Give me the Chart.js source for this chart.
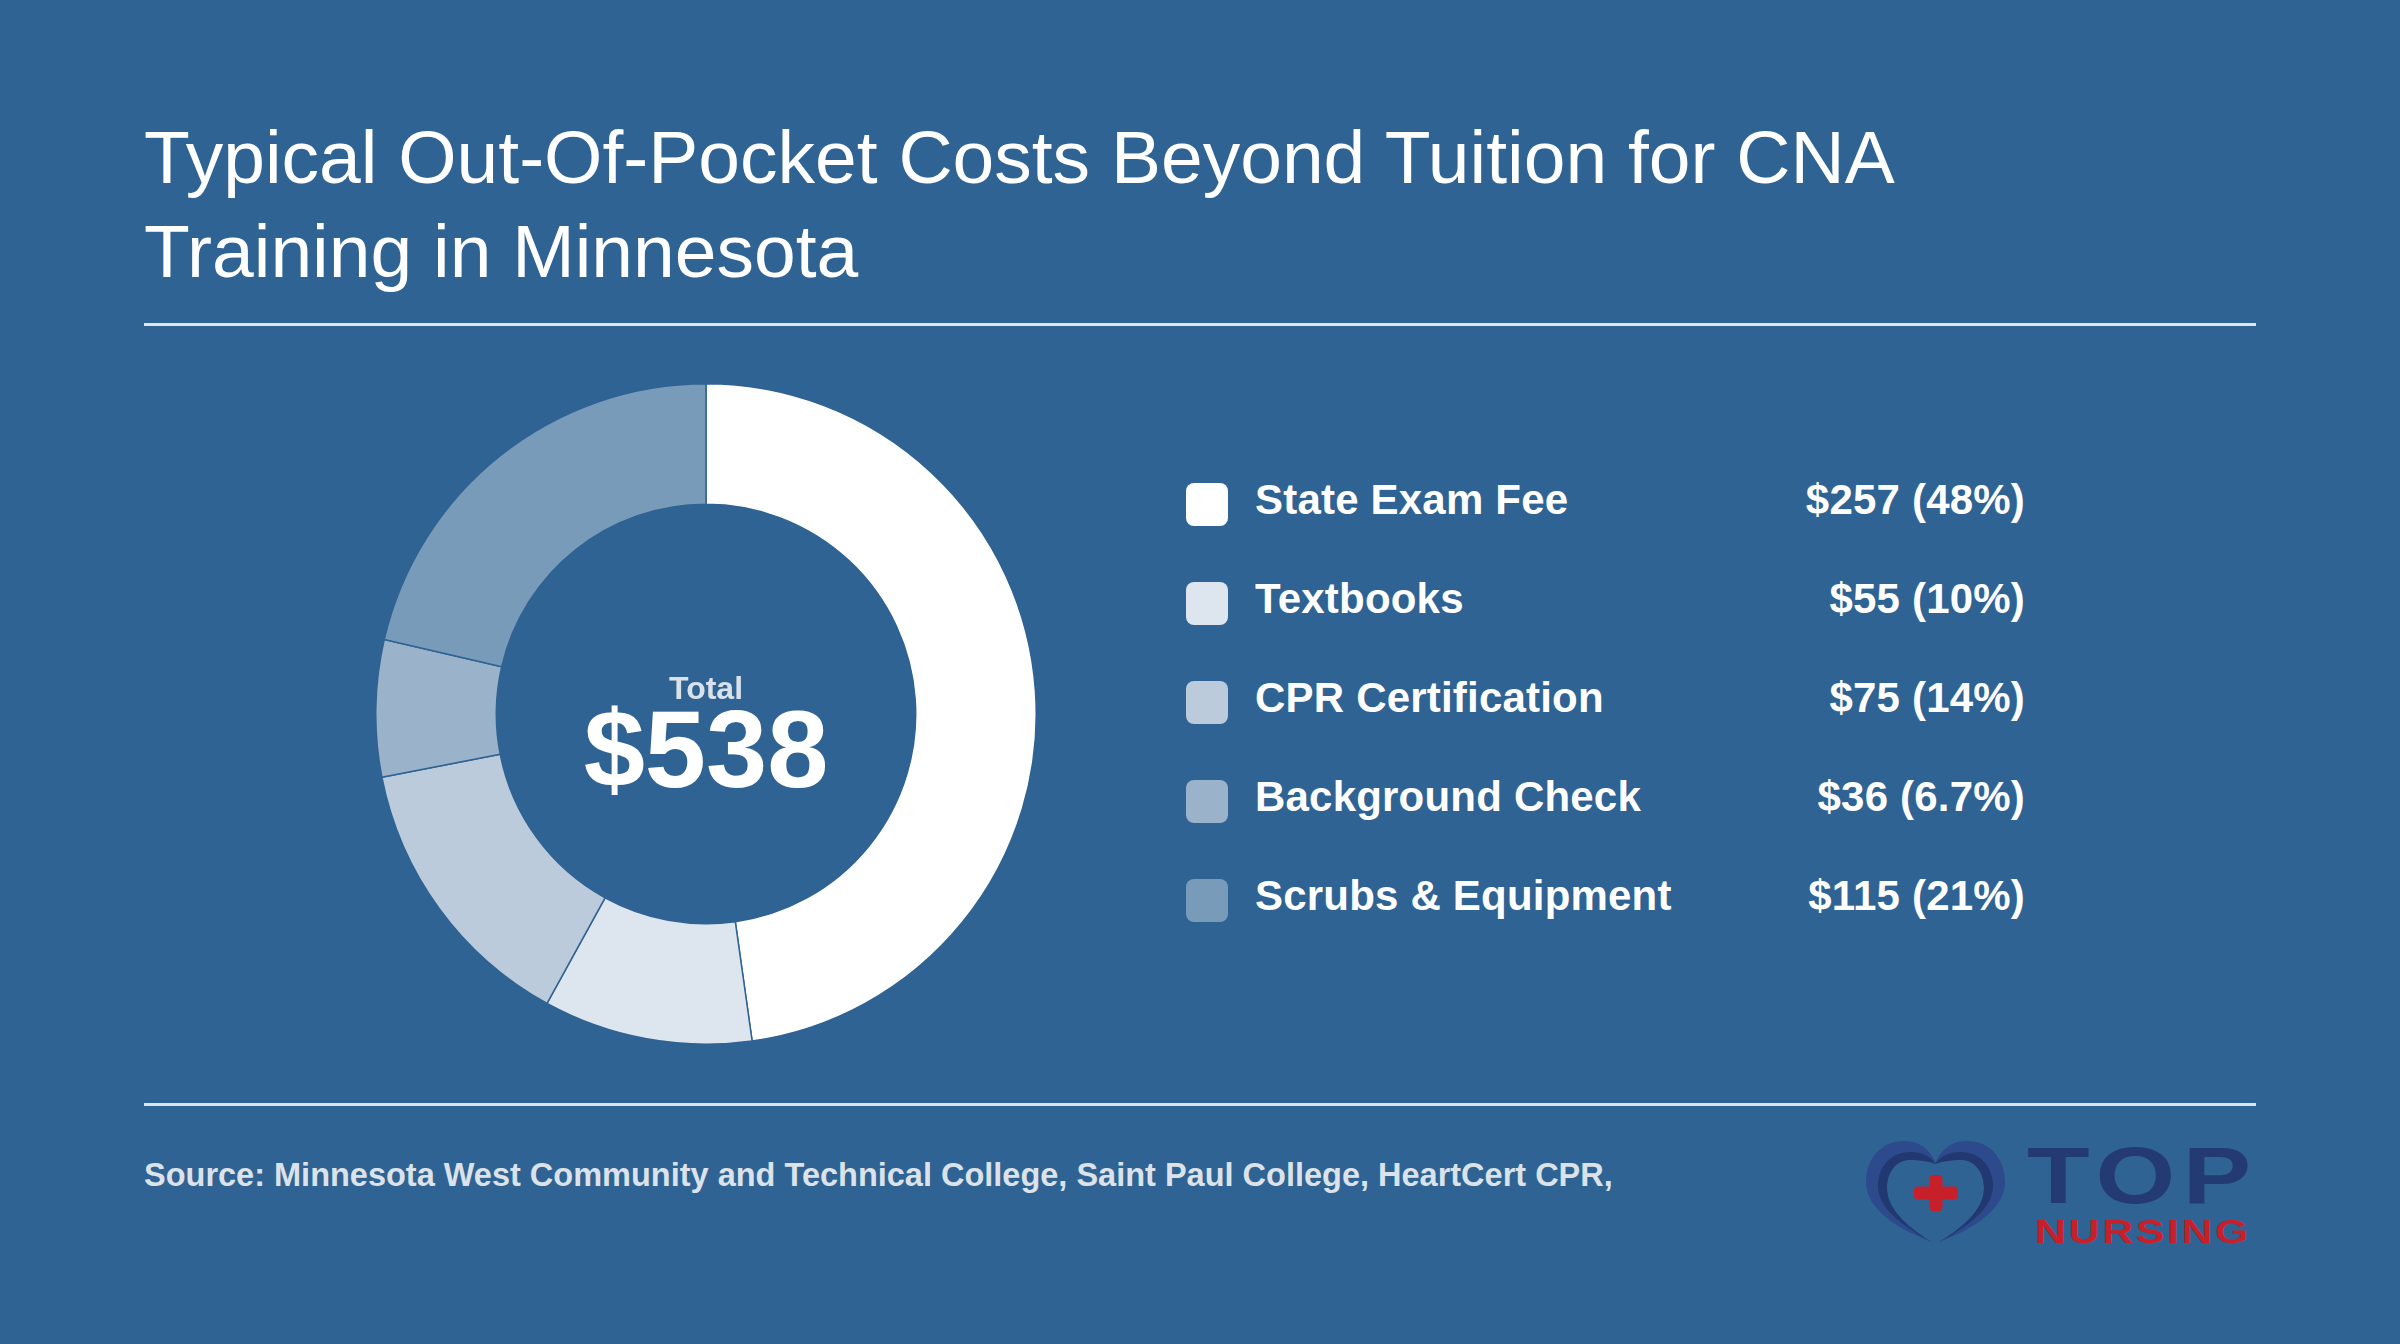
<!DOCTYPE html>
<html>
<head>
<meta charset="utf-8">
<script src="https://cdn.jsdelivr.net/npm/chart.js@4"></script>
<style>
  html, body { margin: 0; padding: 0; }
  body { width: 2400px; height: 1344px; background: #2f6393; position: relative; overflow: hidden;
         font-family: "Liberation Sans", Arial, sans-serif; }
  .abs { position: absolute; white-space: nowrap; }
  #title { left: 144px; top: 110px; font-size: 75px; line-height: 94px; color: #ffffff; font-weight: 400; }
  .rule { position: absolute; left: 144px; width: 2112px; height: 3px; background: #dfe5ec; }
  #chartWrap { position: absolute; left: 375px; top: 383px; width: 662px; height: 662px; }
  #total { left: 556px; width: 300px; text-align: center; top: 675px; font-size: 32px; line-height: 26px; font-weight: 700; color: #d9e1ea; }
  #totalVal { left: 456px; width: 500px; text-align: center; top: 702px; font-size: 110px; line-height: 94px; font-weight: 700; color: #ffffff; }
  .sw { position: absolute; left: 1186px; width: 42px; height: 43px; border-radius: 8px; }
  .lab { position: absolute; left: 1255px; font-size: 42px; line-height: 42px; font-weight: 700; color: #ffffff; white-space: nowrap; letter-spacing: 0.2px; }
  .val { position: absolute; right: 375px; font-size: 42px; line-height: 42px; font-weight: 700; color: #ffffff; white-space: nowrap; text-align: right; letter-spacing: 0.2px; }
  #source { left: 144px; top: 1158.5px; font-size: 32.5px; line-height: 32.5px; font-weight: 700; color: #dbe2ea; }
  #logoTop { left: 2027px; top: 1144px; font-size: 80px; line-height: 64px; color: #243a73; font-weight: 700; transform-origin: 0 0; transform: scaleX(1.28); letter-spacing: 6px; }
  #logoNurse { left: 2035px; top: 1217px; font-size: 33px; line-height: 30px; color: #c8202a; font-weight: 700; transform-origin: 0 0; transform: scaleX(1.3); letter-spacing: 2px; }
</style>
</head>
<body>
<div id="title" class="abs">Typical Out-Of-Pocket Costs Beyond Tuition for CNA<br>Training in Minnesota</div>
<div class="rule" style="top:323px"></div>
<div class="rule" style="top:1103px"></div>

<div id="chartWrap"><canvas id="c" width="662" height="662"></canvas></div>
<div id="total" class="abs">Total</div>
<div id="totalVal" class="abs"></div>

<div id="legend"></div>

<div id="source" class="abs">Source: Minnesota West Community and Technical College, Saint Paul College, HeartCert CPR,</div>

<svg class="abs" style="left:1840px;top:1120px" width="200" height="140" viewBox="0 0 200 140">
  <g id="half">
    <path d="M96,44 C90,28 78,21 64,21 C40,21 26,40 26,62 C26,88 55,108 92,122 C62,104 47,86 47,68 C47,50 58,40 70,40 C82,40 90,42 96,44 Z" fill="#2c4a8c"/>
    <path d="M96,44 C90,36 82,32 70,32 C52,32 38,46 38,66 C38,88 62,106 92,122 C62,104 47,86 47,68 C47,50 58,40 70,40 C82,40 90,42 96,44 Z" fill="#223870"/>
  </g>
  <use href="#half" transform="matrix(-1 0 0 1 191 0)"/>
  <rect x="74" y="66.5" width="44" height="13" rx="4" fill="#c8202a"/>
  <rect x="89.5" y="55" width="13" height="36" rx="4" fill="#c8202a"/>
</svg>
<div id="logoTop" class="abs">TOP</div>
<div id="logoNurse" class="abs">NURSING</div>

<script>
// ---- data ----
const categories = ["State Exam Fee", "Textbooks", "CPR Certification", "Background Check", "Scrubs & Equipment"];
const costs = [257, 55, 75, 36, 115];
const pctLabels = ["48%", "10%", "14%", "6.7%", "21%"];
const totalLabel = "$538";

// ---- styles ----
const bg = "#2f6393";
const sliceColors = ["#ffffff", "#dde5ef", "#bbcbdc", "#9ab2ca", "#789bb9"];

document.getElementById("totalVal").textContent = totalLabel;

const legend = document.getElementById("legend");
const rowTop0 = 483, rowStep = 99;
categories.forEach((cat, i) => {
  const top = rowTop0 + i * rowStep;
  const sw = document.createElement("div");
  sw.className = "sw";
  sw.style.top = top + "px";
  sw.style.background = sliceColors[i];
  legend.appendChild(sw);
  const textTop = top + 32 - 35.6;
  const lab = document.createElement("div");
  lab.className = "lab";
  lab.style.top = textTop + "px";
  lab.textContent = cat;
  legend.appendChild(lab);
  const val = document.createElement("div");
  val.className = "val";
  val.style.top = textTop + "px";
  val.textContent = "$" + costs[i] + " (" + pctLabels[i] + ")";
  legend.appendChild(val);
});

new Chart(document.getElementById("c"), {
  type: "doughnut",
  data: {
    labels: categories,
    datasets: [{
      data: costs,
      backgroundColor: sliceColors,
      borderColor: bg,
      borderWidth: 1.5,
      hoverOffset: 0
    }]
  },
  options: {
    responsive: false,
    animation: false,
    cutout: "63.5%",
    layout: { padding: 0 },
    plugins: { legend: { display: false }, tooltip: { enabled: false } }
  }
});
</script>
</body>
</html>
